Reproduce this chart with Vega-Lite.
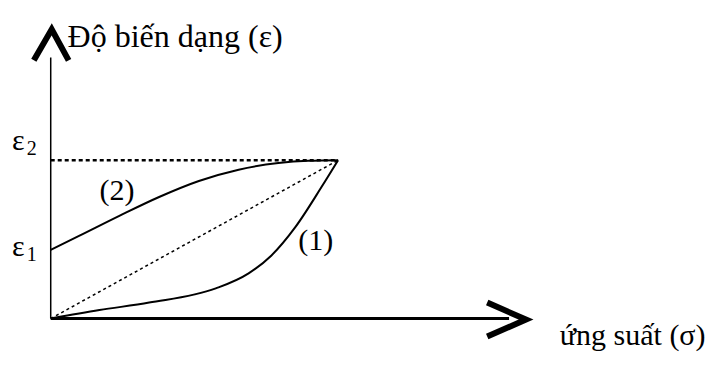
{
  "$schema": "https://vega.github.io/schema/vega-lite/v6.json",
  "width": 705,
  "height": 365,
  "autosize": {"type": "fit", "contains": "padding"},
  "padding": 0,
  "background": "white",
  "config": {"view": {"stroke": null}},
  "datasets": {
    "lines": [
      {"series": "yaxis", "i": 0, "sigma": 0, "epsilon": 0},
      {"series": "yaxis", "i": 1, "sigma": 0, "epsilon": 16.49},
      {"series": "xaxis", "i": 0, "sigma": 0, "epsilon": 0},
      {"series": "xaxis", "i": 1, "sigma": 15.95, "epsilon": 0},
      {"series": "uparrow", "i": 0, "sigma": -0.588, "epsilon": 16.31},
      {"series": "uparrow", "i": 1, "sigma": 0.035, "epsilon": 18.27},
      {"series": "uparrow", "i": 2, "sigma": 0.623, "epsilon": 16.31},
      {"series": "rightarrow", "i": 0, "sigma": 15.19, "epsilon": 1.012},
      {"series": "rightarrow", "i": 1, "sigma": 16.54, "epsilon": -0.06},
      {"series": "rightarrow", "i": 2, "sigma": 15.19, "epsilon": -1.131},
      {"series": "eps2", "i": 0, "sigma": 0, "epsilon": 10},
      {"series": "eps2", "i": 1, "sigma": 10, "epsilon": 10},
      {"series": "diag", "i": 0, "sigma": 0, "epsilon": 0},
      {"series": "diag", "i": 1, "sigma": 10, "epsilon": 10},
      {"series": "curve1", "i": 0, "sigma": 0, "epsilon": 0},
      {"series": "curve1", "i": 1, "sigma": 1.696, "epsilon": 0.536},
      {"series": "curve1", "i": 2, "sigma": 3.426, "epsilon": 1.012},
      {"series": "curve1", "i": 3, "sigma": 5.744, "epsilon": 1.905},
      {"series": "curve1", "i": 4, "sigma": 6.886, "epsilon": 2.857},
      {"series": "curve1", "i": 5, "sigma": 7.682, "epsilon": 3.988},
      {"series": "curve1", "i": 6, "sigma": 8.512, "epsilon": 5.774},
      {"series": "curve1", "i": 7, "sigma": 9.412, "epsilon": 8.274},
      {"series": "curve1", "i": 8, "sigma": 10, "epsilon": 10},
      {"series": "curve2", "i": 0, "sigma": 0, "epsilon": 4.345},
      {"series": "curve2", "i": 1, "sigma": 1.003, "epsilon": 5.238},
      {"series": "curve2", "i": 2, "sigma": 2.388, "epsilon": 6.488},
      {"series": "curve2", "i": 3, "sigma": 3.772, "epsilon": 7.679},
      {"series": "curve2", "i": 4, "sigma": 5.156, "epsilon": 8.69},
      {"series": "curve2", "i": 5, "sigma": 6.54, "epsilon": 9.405},
      {"series": "curve2", "i": 6, "sigma": 7.924, "epsilon": 9.821},
      {"series": "curve2", "i": 7, "sigma": 8.962, "epsilon": 9.964},
      {"series": "curve2", "i": 8, "sigma": 10, "epsilon": 10}
    ],
    "labels": [
      {"label": "Độ biến dạng (ε)", "sigma": 0.588, "epsilon": 17.143, "role": "title"},
      {"label": "ứng suất (σ)", "sigma": 17.716, "epsilon": -1.667, "role": "main"},
      {"label": "(2)", "sigma": 1.696, "epsilon": 7.5, "role": "main"},
      {"label": "(1)", "sigma": 8.616, "epsilon": 4.345, "role": "main"},
      {"label": "ε", "sigma": -1.349, "epsilon": 10.655, "role": "main"},
      {"label": "2", "sigma": -0.83, "epsilon": 10.357, "role": "sub"},
      {"label": "ε", "sigma": -1.349, "epsilon": 3.929, "role": "main"},
      {"label": "1", "sigma": -0.83, "epsilon": 3.631, "role": "sub"}
    ]
  },
  "encoding": {
    "x": {"field": "sigma", "type": "quantitative", "scale": {"domain": [-1.765, 22.63], "nice": false, "zero": false}, "axis": null},
    "y": {"field": "epsilon", "type": "quantitative", "scale": {"domain": [-2.679, 19.048], "nice": false, "zero": false}, "axis": null}
  },
  "layer": [
    {
      "data": {"name": "lines"},
      "transform": [{"filter": "datum.series === 'eps2'"}],
      "mark": {"type": "line", "color": "black", "strokeWidth": 2.5, "strokeDash": [4, 3]},
      "encoding": {"order": {"field": "i"}}
    },
    {
      "data": {"name": "lines"},
      "transform": [{"filter": "datum.series === 'diag'"}],
      "mark": {"type": "line", "color": "black", "strokeWidth": 1.5, "strokeDash": [3, 3]},
      "encoding": {"order": {"field": "i"}}
    },
    {
      "data": {"name": "lines"},
      "transform": [{"filter": "datum.series === 'curve1' || datum.series === 'curve2'"}],
      "mark": {"type": "line", "color": "black", "strokeWidth": 2, "interpolate": "monotone"},
      "encoding": {"detail": {"field": "series"}, "order": {"field": "i"}}
    },
    {
      "data": {"name": "lines"},
      "transform": [{"filter": "datum.series === 'yaxis'"}],
      "mark": {"type": "line", "color": "black", "strokeWidth": 1.5},
      "encoding": {"order": {"field": "i"}}
    },
    {
      "data": {"name": "lines"},
      "transform": [{"filter": "datum.series === 'xaxis'"}],
      "mark": {"type": "line", "color": "black", "strokeWidth": 3},
      "encoding": {"order": {"field": "i"}}
    },
    {
      "data": {"name": "lines"},
      "transform": [{"filter": "datum.series === 'uparrow' || datum.series === 'rightarrow'"}],
      "mark": {"type": "line", "color": "black", "strokeWidth": 6, "strokeJoin": "miter", "strokeCap": "butt", "strokeMiterLimit": 10},
      "encoding": {"detail": {"field": "series"}, "order": {"field": "i"}}
    },
    {
      "data": {"name": "labels"},
      "transform": [{"filter": "datum.role === 'title'"}],
      "mark": {"type": "text", "align": "left", "baseline": "alphabetic", "font": "Liberation Serif", "fontSize": 32, "color": "black"},
      "encoding": {"text": {"field": "label"}}
    },
    {
      "data": {"name": "labels"},
      "transform": [{"filter": "datum.role === 'main'"}],
      "mark": {"type": "text", "align": "left", "baseline": "alphabetic", "font": "Liberation Serif", "fontSize": 30, "color": "black"},
      "encoding": {"text": {"field": "label"}}
    },
    {
      "data": {"name": "labels"},
      "transform": [{"filter": "datum.role === 'sub'"}],
      "mark": {"type": "text", "align": "left", "baseline": "alphabetic", "font": "Liberation Serif", "fontSize": 20, "color": "black"},
      "encoding": {"text": {"field": "label"}}
    }
  ]
}
